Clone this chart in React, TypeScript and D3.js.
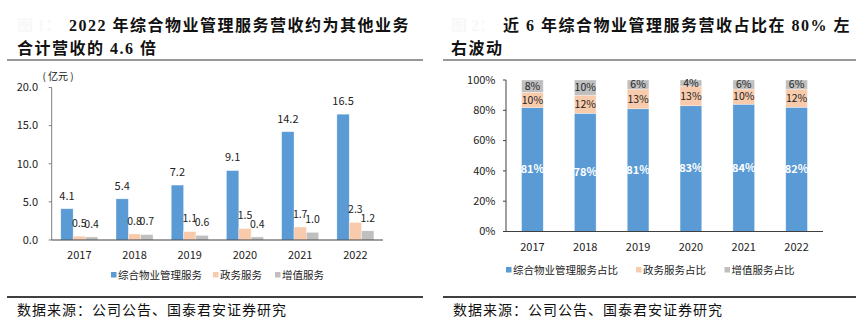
import React from "react";
import * as d3 from "d3";

const years = ["2017", "2018", "2019", "2020", "2021", "2022"];
const propertyMgmt = [4.1, 5.4, 7.2, 9.1, 14.2, 16.5];
const govService = [0.5, 0.8, 1.1, 1.5, 1.7, 2.3];
const valueAdded = [0.4, 0.7, 0.6, 0.4, 1.0, 1.2];
const leftTicks = [0, 5, 10, 15, 20];
const leftSeriesNames = ["综合物业管理服务", "政务服务", "增值服务"];

const pctProperty = [81, 78, 81, 83, 84, 82];
const pctGov = [10, 12, 13, 13, 10, 12];
const pctValue = [8, 10, 6, 4, 6, 6];
const rightTicks = [0, 20, 40, 60, 80, 100];
const rightSeriesNames = ["综合物业管理服务占比", "政务服务占比", "增值服务占比"];

const colors = ["#5B9BD5", "#F8CBAD", "#BFBFBF"];
const chartFont = "'Noto Sans CJK SC', 'Liberation Sans', sans-serif";
const titleFont = "'Liberation Serif', 'Noto Sans CJK SC', serif";

function LeftChart() {
  const x0 = d3.scaleBand<string>().domain(years).range([51.7, 383]).paddingInner(0.33).paddingOuter(0.165);
  const x1 = d3.scaleBand<number>().domain([0, 1, 2]).range([0, x0.bandwidth()]).padding(0);
  const y = d3.scaleLinear().domain([0, 20]).range([240, 87.5]);
  const series = [propertyMgmt, govService, valueAdded];
  const legendX = [111, 213, 275];
  return (
    <g fontFamily={chartFont}>
      <text x={17} y={31} fontSize={16} fontWeight="bold" fill="#f8f8f8" fontFamily={titleFont}>图 1：</text>
      <text x={69} y={31} fontSize={16} fontWeight="bold" fill="#111" fontFamily={titleFont} letterSpacing={1.5}>2022 年综合物业管理服务营收约为其他业务</text>
      <text x={17} y={54} fontSize={16} fontWeight="bold" fill="#111" fontFamily={titleFont} letterSpacing={1.5}>合计营收的 4.6 倍</text>
      <line x1={7} x2={423} y1={60} y2={60} stroke="#333" strokeWidth={1.2} />
      <text x={58} y={80} fontSize={10} textAnchor="middle" fill="#222">( 亿元 )</text>
      <line x1={51.7} x2={51.7} y1={y(20)} y2={y(0)} stroke="#7f7f7f" strokeWidth={1} />
      {leftTicks.map((t) => (
        <g key={t}>
          <line x1={48.7} x2={51.7} y1={y(t)} y2={y(t)} stroke="#7f7f7f" />
          <text x={38} y={y(t)} dy="0.35em" fontSize={11} textAnchor="end" fill="#222">{t.toFixed(1)}</text>
        </g>
      ))}
      {years.map((yr, i) => (
        <g key={yr}>
          {series.map((s, k) => {
            const bx = (x0(yr) as number) + (x1(k) as number);
            return (
              <rect key={k} x={bx} y={y(s[i])} width={x1.bandwidth()} height={y(0) - y(s[i])} fill={colors[k]} stroke="#ffffff" strokeOpacity={0.5} strokeWidth={0.6} />
            );
          })}
          {series.map((s, k) => {
            const bx = (x0(yr) as number) + (x1(k) as number) + x1.bandwidth() / 2;
            return (
              <text key={"l" + k} x={bx} y={y(s[i]) - 13} dy="0.35em" fontSize={k === 0 ? 11 : 10.5} textAnchor="middle" fill="#222">{s[i].toFixed(1)}</text>
            );
          })}
          <text x={(x0(yr) as number) + x0.bandwidth() / 2} y={255} dy="0.35em" fontSize={11} textAnchor="middle" fill="#222">{yr}</text>
        </g>
      ))}
      <line x1={51.7} x2={383} y1={240} y2={240} stroke="#404040" strokeWidth={1} />
      {leftSeriesNames.map((n, k) => (
        <g key={n}>
          <rect x={legendX[k]} y={272} width={5.5} height={5.5} fill={colors[k]} />
          <text x={legendX[k] + 7} y={275} dy="0.35em" fontSize={10.5} fill="#222">{n}</text>
        </g>
      ))}
      <line x1={7} x2={423} y1={297} y2={297} stroke="#404040" strokeWidth={2} />
      <text x={17} y={315} fontSize={14} fill="#111" letterSpacing={1}>数据来源：公司公告、国泰君安证券研究</text>
    </g>
  );
}

function RightChart() {
  const x = d3.scaleBand<string>().domain(years).range([506, 823]).paddingInner(0.59).paddingOuter(0.295);
  const y = d3.scaleLinear().domain([0, 100]).range([231.5, 80]);
  const series = [pctProperty, pctGov, pctValue];
  const legendX = [506, 636, 724.5];
  return (
    <g fontFamily={chartFont}>
      <text x={451} y={31} fontSize={16} fontWeight="bold" fill="#f8f8f8" fontFamily={titleFont}>图 2：</text>
      <text x={503} y={31} fontSize={16} fontWeight="bold" fill="#111" fontFamily={titleFont} letterSpacing={1.5}>近 6 年综合物业管理服务营收占比在 80% 左</text>
      <text x={451} y={54} fontSize={16} fontWeight="bold" fill="#111" fontFamily={titleFont} letterSpacing={1.5}>右波动</text>
      <line x1={443} x2={856} y1={60} y2={60} stroke="#333" strokeWidth={1.2} />
      <line x1={506} x2={506} y1={y(100)} y2={y(0)} stroke="#404040" />
      {rightTicks.map((t) => (
        <g key={t}>
          <line x1={503} x2={506} y1={y(t)} y2={y(t)} stroke="#404040" />
          <text x={495.5} y={y(t)} dy="0.35em" fontSize={11} textAnchor="end" fill="#222">{t + "%"}</text>
        </g>
      ))}
      {years.map((yr, i) => {
        const total = series[0][i] + series[1][i] + series[2][i];
        let acc = 0;
        return (
          <g key={yr}>
            {series.map((s, k) => {
              const v0 = (acc / total) * 100;
              acc += s[i];
              const v1 = (acc / total) * 100;
              const bx = x(yr) as number;
              const mid = (y(v0) + y(v1)) / 2;
              return (
                <g key={k}>
                  <rect x={bx} y={y(v1)} width={x.bandwidth()} height={y(v0) - y(v1)} fill={colors[k]} stroke="#ffffff" strokeOpacity={0.5} strokeWidth={0.6} />
                  <text x={bx + x.bandwidth() / 2} y={mid} dy="0.35em" fontSize={k === 0 ? 11 : 10.5} textAnchor="middle" fill={k === 0 ? "#ffffff" : "#222"} fontWeight={k === 0 ? "bold" : "normal"}>{s[i] + "%"}</text>
                </g>
              );
            })}
            <text x={(x(yr) as number) + x.bandwidth() / 2} y={247} dy="0.35em" fontSize={11} textAnchor="middle" fill="#222">{yr}</text>
          </g>
        );
      })}
      <line x1={506} x2={823} y1={231.5} y2={231.5} stroke="#404040" />
      {rightSeriesNames.map((n, k) => (
        <g key={n}>
          <rect x={legendX[k]} y={267} width={5.5} height={5.5} fill={colors[k]} />
          <text x={legendX[k] + 7} y={270} dy="0.35em" fontSize={10.5} fill="#222">{n}</text>
        </g>
      ))}
      <line x1={443} x2={856} y1={297} y2={297} stroke="#404040" strokeWidth={2} />
      <text x={453} y={315} fontSize={14} fill="#111" letterSpacing={1}>数据来源：公司公告、国泰君安证券研究</text>
    </g>
  );
}

export default function App() {
  return (
    <svg width={866} height={327} style={{ position: "absolute", left: 0, top: 0, background: "#fff" }}>
      <rect width={866} height={327} fill="#fff" />
      <LeftChart />
      <RightChart />
    </svg>
  );
}
